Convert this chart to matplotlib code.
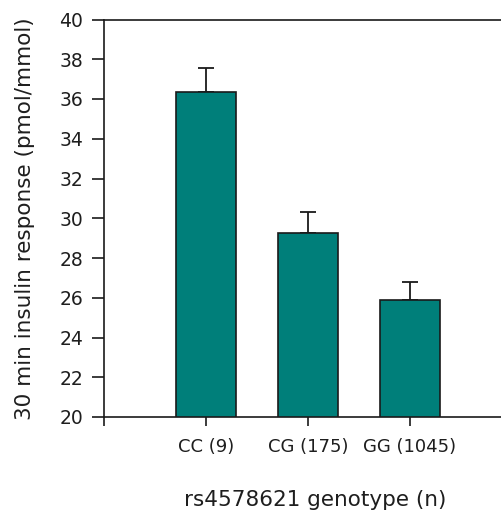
import matplotlib
matplotlib.use("Agg")
import matplotlib.pyplot as plt

genotypes = ["CC (9)", "CG (175)", "GG (1045)"]
insulin_30 = [36.33, 29.28, 25.87]
insulin_sem = [1.24, 1.04, 0.92]

W, H = 502, 518
fig = plt.figure(figsize=(W / 100, H / 100), dpi=100)

# axes box in pixels: left spine x=104, y axis from 417 (20) up to 19.5 (40)
left, bottom_px, top_px, unit = 104, 417, 19.5, 102
ax = fig.add_axes([left / W, (H - bottom_px) / H, 4 * unit / W, (bottom_px - top_px) / H])

xpos = [1, 2, 3]
ax.bar(xpos, insulin_30, width=0.59, color="#007f7a", edgecolor="#1a1a1a", linewidth=1.2,
       zorder=2)
ax.errorbar(xpos, insulin_30, yerr=[[0, 0, 0], insulin_sem], fmt="none", ecolor="#1a1a1a",
            elinewidth=1.3, capsize=6, capthick=1.3, zorder=1)

ax.set_xlim(0, 4)
ax.set_ylim(20, 40)
ax.set_yticks(range(20, 41, 2))
ax.set_xticks([0] + xpos)
ax.set_xticklabels([""] + genotypes)

for side in ["left", "bottom", "top"]:
    ax.spines[side].set_linewidth(1.2)
    ax.spines[side].set_color("#1a1a1a")
ax.spines["right"].set_visible(False)

ax.tick_params(axis="y", direction="out", length=9, width=1.2, pad=6, labelsize=13.5,
               color="#1a1a1a", labelcolor="#1e1e1e")
ax.tick_params(axis="x", direction="out", length=6.5, width=1.2, pad=8.5, labelsize=13,
               color="#1a1a1a", labelcolor="#1e1e1e")

ax.set_ylabel("30 min insulin response (pmol/mmol)", fontsize=15.5, color="#1e1e1e")
ax.set_xlabel("rs4578621 genotype (n)", fontsize=15.5, color="#1e1e1e")
ax.yaxis.set_label_coords((35 - left) / (4 * unit), 0.5)
ax.xaxis.set_label_coords((315 - left) / (4 * unit), (bottom_px - 490) / (bottom_px - top_px))

fig.savefig("out.png", dpi=100)
